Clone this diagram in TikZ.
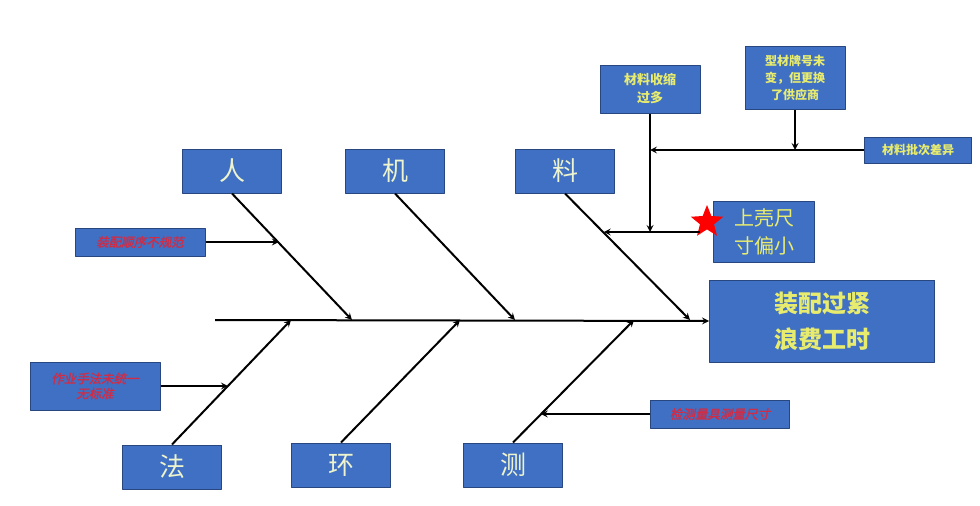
\documentclass[tikz,border=0pt]{standalone}
\usepackage{fontspec}
\newfontfamily\cjk{Noto Sans CJK SC}
\newfontfamily\cjkslant[FakeSlant=0.2,FakeBold=1.5]{Noto Sans CJK SC}
\usetikzlibrary{calc,shapes.geometric}
\definecolor{boxblue}{RGB}{64,112,196}
\definecolor{boxedge}{RGB}{40,70,128}
\definecolor{palefg}{RGB}{238,244,206}
\definecolor{yellowfg}{RGB}{232,236,110}
\definecolor{redfg}{RGB}{208,44,70}
\begin{document}
\begin{tikzpicture}[font=\cjk, line join=round, >=stealth, x=1pt, y=-1pt,
  box/.style={draw=boxedge, fill=boxblue, line width=1pt, inner sep=0pt, align=center},
  bigbox/.style={box, minimum width=99pt, minimum height=44pt, text=palefg, font=\cjk\fontsize{26}{30}\selectfont},
  causebox/.style={box, text=redfg, font=\cjkslant\fontsize{12.5}{15}\selectfont},
  subbox/.style={box, text=yellowfg, font=\cjk\bfseries\fontsize{13}{18}\selectfont},
  bone/.style={->, line width=2pt}]
\useasboundingbox (0,0) rectangle (980,506);
% head and spine
\node[box, minimum width=225pt, minimum height=82pt, text=yellowfg, font=\cjk\bfseries\fontsize{24}{36}\selectfont] (head) at (822,321) {装配过紧\\浪费工时};
\coordinate (tail) at (215,320);
\draw[bone] (tail) -- (head.west);
% main categories
\node[bigbox] (ren) at (232,171) {人};
\node[bigbox] (ji) at (395,171) {机};
\node[bigbox] (liao) at (565,171) {料};
\node[bigbox] (fa) at (172,467) {法};
\node[bigbox] (huan) at (341,465) {环};
\node[bigbox] (ce) at (513,465) {测};
\coordinate (r1) at (352,320);
\coordinate (j1) at (515,320);
\coordinate (l1) at (690,320);
\coordinate (f1) at (291,320);
\coordinate (h1) at (460,320);
\coordinate (c1) at (634,320);
\foreach \b/\e in {ren/r1,ji/j1,liao/l1} \draw[bone] (\b.south) -- (\e);
\foreach \b/\e in {fa/f1,huan/h1,ce/c1} \draw[bone] (\b.north) -- (\e);
% causes
\node[causebox, minimum width=130pt, minimum height=28pt] (renc) at (140,242) {装配顺序不规范};
\node[causebox, minimum width=130pt, minimum height=48pt] (fac) at (95,386) {作业手法未统一\\无标准};
\node[causebox, minimum width=139pt, minimum height=28pt] (cec) at (720,414) {检测量具测量尺寸};
\coordinate (ra) at ($(ren.south)!.39!(r1)$);
\coordinate (fa1) at ($(fa.north)!.47!(f1)$);
\coordinate (ca) at ($(ce.north)!.23!(c1)$);
\draw[bone] (renc.east) -- (renc.east -| ra);
\draw[bone] (fac.east) -- (fac.east -| fa1);
\draw[bone] (cec.west) -- (cec.west -| ca);
% material branch
\node[subbox, minimum width=100pt, minimum height=48pt] (shrink) at (650,89) {材料收缩\\过多};
\node[subbox, minimum width=100pt, minimum height=63pt, font=\cjk\bfseries\fontsize{12}{17}\selectfont] (supplier) at (795,78) {型材牌号未\\变，但更换\\了供应商};
\node[subbox, minimum width=107pt, minimum height=26pt, font=\cjk\bfseries\fontsize{12}{15}\selectfont] (batch) at (918,150) {材料批次差异};
\node[box, minimum width=101pt, minimum height=61pt, text=yellowfg, font=\cjk\fontsize{20}{28}\selectfont] (shell) at (764,232) {上壳尺\\寸偏小};
\node[star, star points=5, star point ratio=2.3, minimum size=34pt, fill=red, inner sep=0pt] (mark) at (707,222) {};
\coordinate (la) at ($(liao.south)!.31!(l1)$);
\coordinate (sj) at (shrink.south |- batch.west);
\draw[bone] (shrink.south) -- (shrink.south |- shell.west);
\draw[bone] (batch.west) -- (sj);
\draw[bone] (supplier.south) -- (supplier.south |- batch.west);
\draw[bone] (mark.center) ++(-7,10) -- (la |- shell.west);
\end{tikzpicture}
\end{document}
